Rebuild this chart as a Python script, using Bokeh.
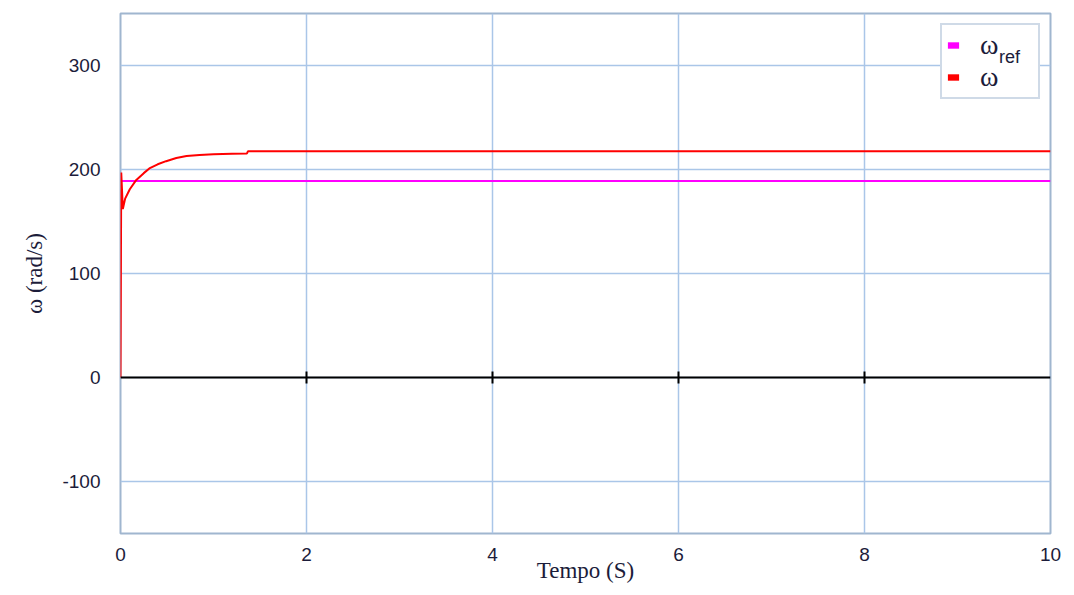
import math
from bokeh.plotting import figure
from bokeh.models import (Range1d, Span, Legend, LegendItem, FixedTicker,
                          NumeralTickFormatter, HTMLLabel)
from bokeh.embed import file_html
from bokeh.resources import INLINE

# ---- data ----
time_s = [0.0, 0.008, 0.025, 0.05, 0.1, 0.17, 0.25, 0.31, 0.4, 0.49, 0.6, 0.71,
          0.85, 1.0, 1.2, 1.36, 1.37, 2.0, 4.0, 6.0, 8.0, 10.0]
omega = [0.0, 197.0, 162.0, 172.0, 181.0, 190.0, 196.5, 201.0, 205.0, 208.0, 211.0, 213.0,
         214.0, 214.7, 215.2, 215.5, 217.5, 217.5, 217.5, 217.5, 217.5, 217.5]
time_ref = [0.0, 10.0]
omega_ref = [189.0, 189.0]

x_ticks = [0, 2, 4, 6, 8, 10]
y_ticks = [-100, 0, 100, 200, 300]
zero_line_ticks = [2, 4, 6, 8]
legend_labels = ["ω", "ω"]
legend_sub = "ref"
legend_colors = ["#ff00ff", "#ff0000"]
x_title = "Tempo (S)"
y_title = "ω (rad/s)"

GRID = "#aac6e8"
FRAME = "#a0b6cf"
TXT = "#1c1c3a"
NAN = float("nan")

p = figure(width=1066, height=593, x_range=Range1d(0, 10), y_range=Range1d(-150, 350),
           output_backend="svg", toolbar_location=None,
           min_border_left=120, min_border_right=16, min_border_top=13, min_border_bottom=60)
p.background_fill_color = "white"
p.border_fill_color = "white"
p.outline_line_color = FRAME
p.outline_line_width = 2

for ax, ticks in ((p.xaxis, x_ticks), (p.yaxis, y_ticks)):
    ax.ticker = FixedTicker(ticks=ticks)
    ax.formatter = NumeralTickFormatter(format="0")
    ax.axis_line_color = None
    ax.major_tick_line_color = None
    ax.minor_tick_line_color = None
    ax.major_label_text_font = "Liberation Sans"
    ax.major_label_text_font_size = "19px"
    ax.major_label_text_color = TXT
    ax.axis_label_text_font = "Liberation Serif"
    ax.axis_label_text_font_style = "normal"
    ax.axis_label_text_font_size = "23px"
    ax.axis_label_text_color = TXT
p.xaxis.major_label_standoff = 8
p.yaxis.major_label_standoff = 14
p.xaxis.axis_label = x_title
p.yaxis.axis_label = y_title
p.xaxis.axis_label_standoff = -6
p.yaxis.axis_label_standoff = 12

p.xgrid.ticker = FixedTicker(ticks=x_ticks)
p.ygrid.ticker = FixedTicker(ticks=y_ticks)
for g in (p.xgrid, p.ygrid):
    g.grid_line_color = GRID
    g.grid_line_width = 1.5

# series
p.line(time_ref, omega_ref, line_color="#ff00ff", line_width=2)
p.line(time_s, omega, line_color="#ff0000", line_width=2)

# zero line with tick marks
p.add_layout(Span(location=0, dimension="width", line_color="black", line_width=2))
p.scatter(x=zero_line_ticks, y=[0] * len(zero_line_ticks), marker="dash", angle=math.pi / 2,
          size=12, line_color="black", line_width=2)

# legend (swatch proxies carry no visible geometry)
items = []
for lbl, col in zip(legend_labels, legend_colors):
    prox = p.quad(left=[NAN], right=[NAN], top=[NAN], bottom=[NAN], fill_color=col, line_color=None)
    items.append(LegendItem(label=lbl, renderers=[prox]))
legend = Legend(items=items, location="top_right", margin=10, padding=4, spacing=0,
                glyph_width=14, glyph_height=8, label_standoff=20, label_width=54,
                label_text_font="Liberation Serif", label_text_font_size="28px",
                label_text_color=TXT, border_line_color=FRAME, border_line_width=2,
                background_fill_color="white", background_fill_alpha=1.0)
p.add_layout(legend)

# subscript "ref" of the first legend entry (HTML overlay, frame-relative screen units)
p.add_layout(HTMLLabel(x=879, y=476, x_units="screen", y_units="screen", text=legend_sub,
                       text_font="Liberation Serif", text_font_size="18px", text_color=TXT,
                       text_baseline="middle"))

open("out.html", "w").write(file_html(p, INLINE))
